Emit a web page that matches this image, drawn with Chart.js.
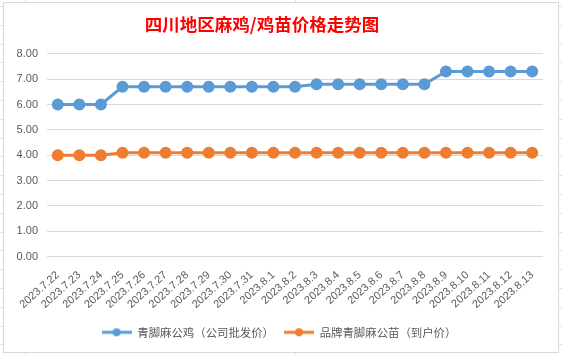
<!DOCTYPE html>
<html><head><meta charset="utf-8">
<script src="https://cdn.jsdelivr.net/npm/chart.js@4.4.0/dist/chart.umd.min.js"></script>
<style>
html,body{margin:0;padding:0;width:562px;height:355px;overflow:hidden;background:#fff;}
#bg{position:absolute;left:0;top:0;width:562px;height:355px;
background-image:repeating-linear-gradient(to bottom, transparent 0, transparent 6px, #e3e3e3 6px, #e3e3e3 7px, transparent 7px, transparent 18.8px);}
#vl1{position:absolute;left:25px;top:0;width:1px;height:355px;background:#e3e3e3;}
#vl2{position:absolute;left:295px;top:0;width:1px;height:355px;background:#e3e3e3;}
#box{position:absolute;left:3px;top:2px;width:554px;height:349px;border:1px solid #d9d9d9;background:#fff;}
canvas{position:absolute;left:0;top:0;}
</style></head>
<body>
<div id="bg"></div><div id="vl1"></div><div id="vl2"></div><div id="box"></div>
<canvas id="c" width="562" height="355"></canvas>
<script>
const titleText = '四川地区麻鸡/鸡苗价格走势图';
const categories = ['2023.7.22','2023.7.23','2023.7.24','2023.7.25','2023.7.26','2023.7.27','2023.7.28','2023.7.29','2023.7.30','2023.7.31','2023.8.1','2023.8.2','2023.8.3','2023.8.4','2023.8.5','2023.8.6','2023.8.7','2023.8.8','2023.8.9','2023.8.10','2023.8.11','2023.8.12','2023.8.13'];
const seriesNames = ['青脚麻公鸡（公司批发价）','品牌青脚麻公苗（到户价）'];
const roosterPrice = [6.0,6.0,6.0,6.7,6.7,6.7,6.7,6.7,6.7,6.7,6.7,6.7,6.8,6.8,6.8,6.8,6.8,6.8,7.3,7.3,7.3,7.3,7.3];
const chickPrice = [4.0,4.0,4.0,4.1,4.1,4.1,4.1,4.1,4.1,4.1,4.1,4.1,4.1,4.1,4.1,4.1,4.1,4.1,4.1,4.1,4.1,4.1,4.1];
const yTicks = [0,1,2,3,4,5,6,7,8];
const colors = ['#5B9BD5','#ED7D31'];

function legendImg(color){
  const c=document.createElement('canvas'); c.width=30; c.height=10;
  const g=c.getContext('2d');
  g.strokeStyle=color; g.lineWidth=3; g.beginPath(); g.moveTo(0,5); g.lineTo(30,5); g.stroke();
  g.fillStyle=color; g.beginPath(); g.arc(15,5,4,0,Math.PI*2); g.fill();
  return c;
}
const imgs = colors.map(legendImg);

const shiftBoxes = {
  id:'shiftBoxes',
  afterLayout(chart){
    if(chart.legend){chart.legend.left+=6;chart.legend.right+=6;}
    if(chart.titleBlock){chart.titleBlock.left-=11;chart.titleBlock.right-=11;}
  }
};

new Chart(document.getElementById('c'),{
  type:'line',
  data:{labels:categories,datasets:[
    {label:seriesNames[0],data:roosterPrice,borderColor:colors[0],backgroundColor:colors[0],borderWidth:3,pointRadius:4.5,pointHoverRadius:4.5,tension:0},
    {label:seriesNames[1],data:chickPrice,borderColor:colors[1],backgroundColor:colors[1],borderWidth:3,pointRadius:4.5,pointHoverRadius:4.5,tension:0}
  ]},
  plugins:[shiftBoxes],
  options:{
    responsive:false,animation:false,
    layout:{padding:{left:3,right:19,top:3,bottom:7}},
    plugins:{
      title:{display:true,text:titleText,color:'#FF0000',font:{family:'"Noto Sans CJK SC"',size:17.5,weight:'bold'},padding:{top:11,bottom:18.8}},
      legend:{position:'bottom',labels:{usePointStyle:true,pointStyleWidth:30,color:'#595959',font:{family:'"Noto Sans CJK SC"',size:11.4},padding:10,
        generateLabels:(chart)=>{const items=Chart.defaults.plugins.legend.labels.generateLabels(chart);items.forEach((it,i)=>{it.pointStyle=imgs[i];});return items;}}},
      tooltip:{enabled:false}
    },
    scales:{
      x:{offset:true,grid:{display:false,offset:true},border:{display:false},
        ticks:{color:'#595959',font:{family:'"Liberation Sans"',size:11},minRotation:42,maxRotation:42,autoSkip:false,padding:4},
        afterFit:(s)=>{s.height=60;}},
      y:{min:0,max:8,grid:{color:'#d9d9d9',drawTicks:false},border:{display:false},
        afterBuildTicks:(s)=>{s.ticks=yTicks.map(v=>({value:v}));},
        ticks:{color:'#595959',font:{family:'"Liberation Sans"',size:11},padding:9,callback:(v)=>Number(v).toFixed(2)},
        afterFit:(s)=>{s.width=44;}}
    }
  }
});
</script>
</body></html>
